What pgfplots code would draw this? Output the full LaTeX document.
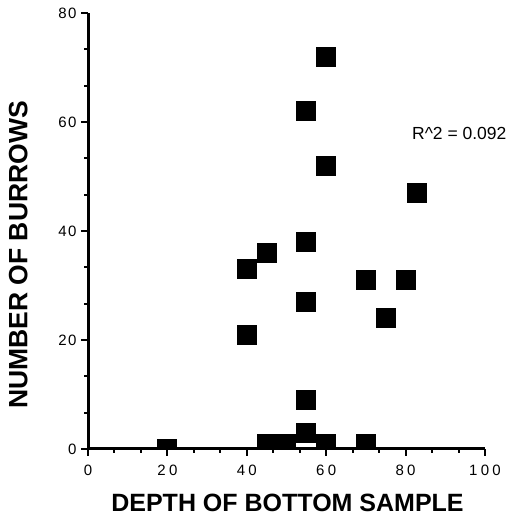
\documentclass[border=0pt]{standalone}
\usepackage{fontspec}
\setmainfont{Liberation Sans}
\usepackage{pgfplots}
\pgfplotsset{compat=1.18}
\pgfplotsset{
  every outer x axis line/.append style={line width=3pt, -},
  every outer y axis line/.append style={line width=3pt, -},
}
\begin{document}
\begin{tikzpicture}
\begin{axis}[
  x=3.97pt, y=5.45pt,
  xmin=0, xmax=100, ymin=0, ymax=80,
  axis lines=left,
  axis line style={-, line width=3pt},
  xtick={0,20,40,60,80,100},
  ytick={0,20,40,60,80},
  minor tick num=2,
  tick align=outside,
  major tick length=7pt,
  minor tick length=4pt,
  major tick style={black, line width=2pt},
  minor tick style={black, line width=2pt},
  /pgf/number format/assume math mode=true,
  xticklabel style={font=\fontsize{15}{17}\selectfont\addfontfeatures{LetterSpace=22}, yshift=-6pt},
  yticklabel style={font=\fontsize{15}{17}\selectfont\addfontfeatures{LetterSpace=10}, xshift=-1pt},
  clip marker paths=true,
  scale only axis,
]
\addplot[only marks, mark=square*, mark size=9.5pt, mark options={fill=black, draw=black, line width=0pt}] coordinates {
 (20,0) (40,33) (40,21) (45,36) (45,1) (47.5,1) (50,1)
 (55,62) (55,38) (55,27) (55,9) (55,3)
 (60,72) (60,52) (60,1) (70,31) (70,1) (75,24) (80,31) (83,47)
};
\coordinate (rtext) at (axis cs:81.6,56.8);
\coordinate (ylab) at (axis cs:-15.29,35.6);
\coordinate (xlab) at (axis cs:50.25,-11.5);
\coordinate (bbsw) at (axis cs:-22.17,-12.48);
\coordinate (bbne) at (axis cs:106.3,82.39);
\end{axis}
\node[anchor=base west, font=\fontsize{17.5}{20}\selectfont, inner sep=0pt] at (rtext) {R\^{}2 = 0.092};
\node[anchor=base, rotate=90, font=\fontsize{26.5}{30}\selectfont\bfseries, inner sep=0pt] at (ylab) {NUMBER OF BURROWS};
\node[anchor=base, font=\fontsize{25}{28}\selectfont\bfseries, inner sep=0pt] at (xlab) {DEPTH OF BOTTOM SAMPLE};
\pgfresetboundingbox
\path (bbsw) rectangle (bbne);
\end{tikzpicture}
\end{document}
